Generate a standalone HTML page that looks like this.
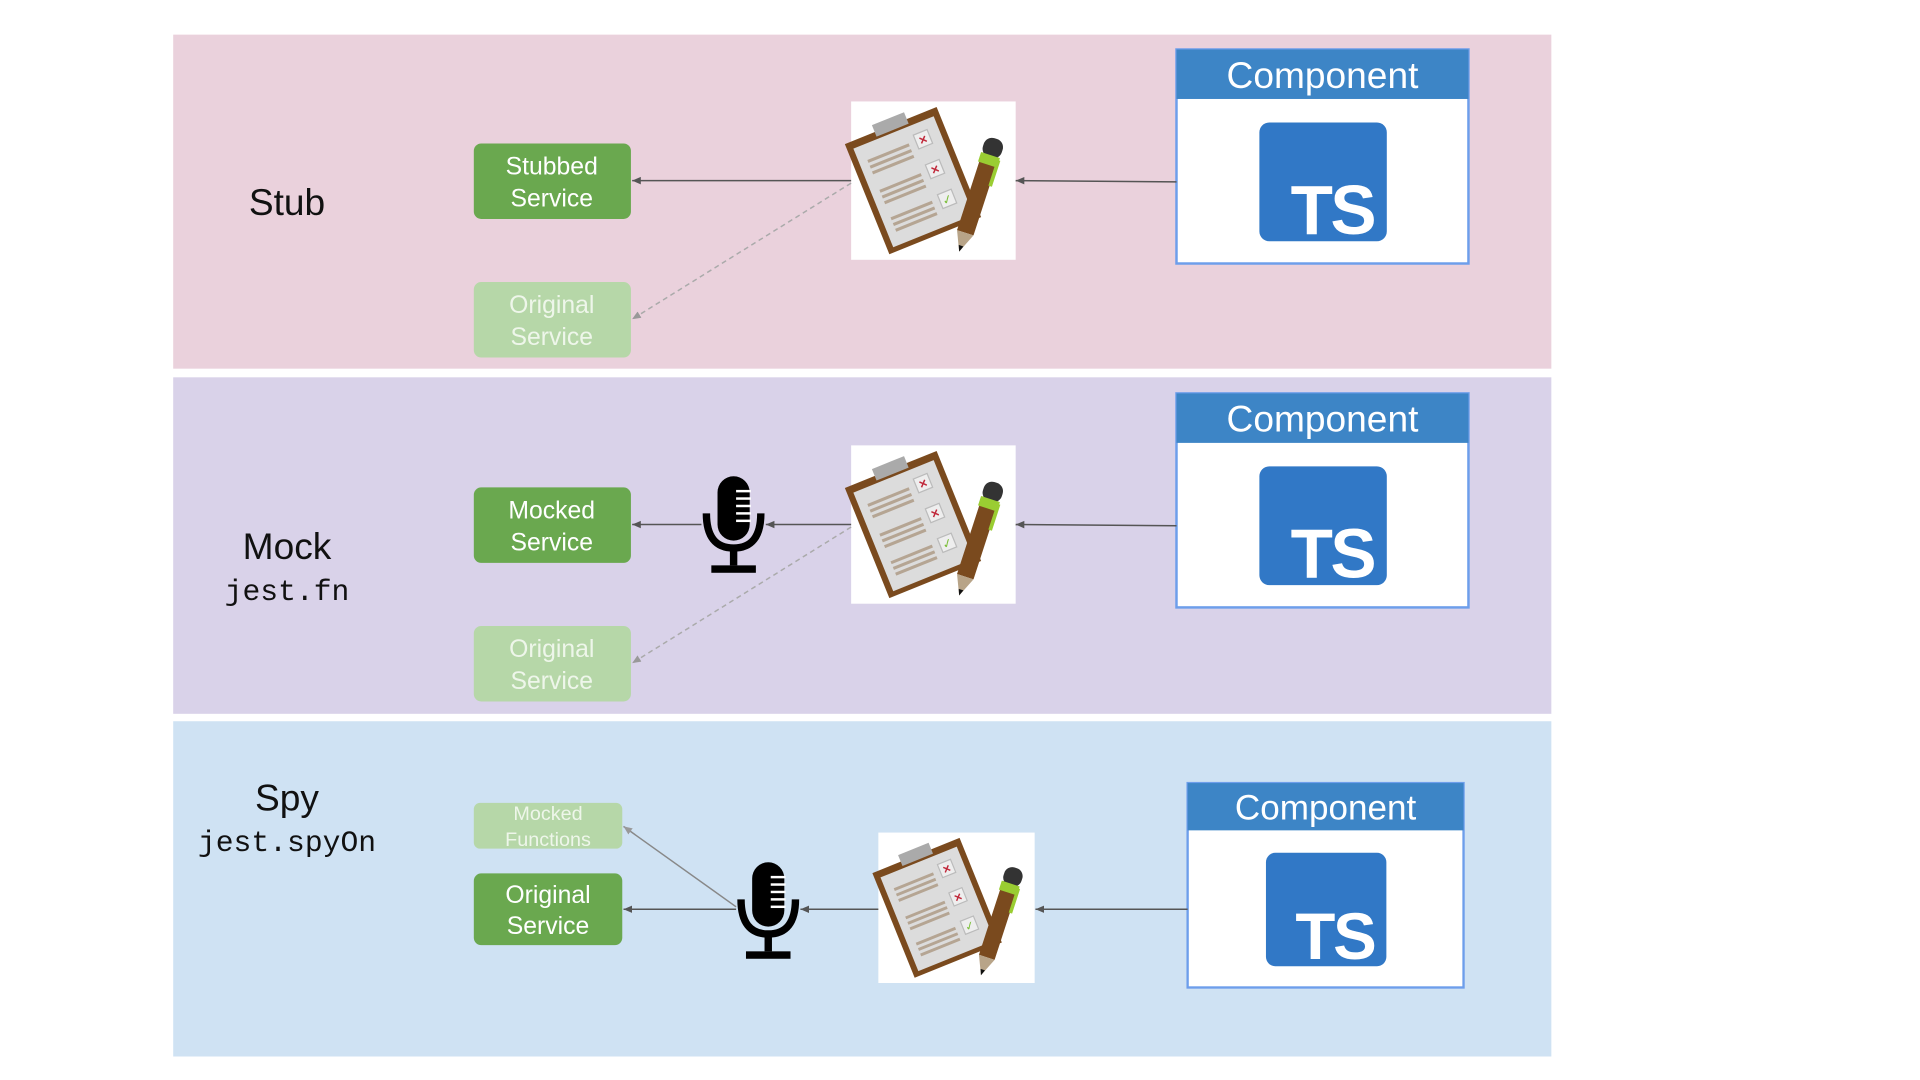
<!DOCTYPE html>
<html><head><meta charset="utf-8"><style>
html,body{margin:0;padding:0;background:#fff;width:1920px;height:1080px;overflow:hidden}
svg{display:block}
text{font-family:"Liberation Sans",sans-serif}
.mono{font-family:"Liberation Mono",monospace}
</style></head><body>
<svg width="1920" height="1080" viewBox="0 0 1552 873" xmlns="http://www.w3.org/2000/svg">
<defs>
<marker id="ah" markerWidth="8" markerHeight="8" refX="7" refY="4" orient="auto" markerUnits="userSpaceOnUse">
<path d="M0,1 L7,4 L0,7 Z" fill="#555"/></marker>
<marker id="ah2" markerWidth="8" markerHeight="8" refX="7" refY="4" orient="auto" markerUnits="userSpaceOnUse">
<path d="M0,1 L7,4 L0,7 Z" fill="#999"/></marker>
<g id="clip">
<rect x="0" y="0" width="133" height="128" fill="#fff"/>
<g transform="translate(50,64) rotate(-22)">
<rect x="-40" y="-48" width="80" height="96" fill="#7a4a1e"/>
<rect x="-35" y="-42" width="70" height="86" fill="#dcdcdc"/>
<rect x="-14" y="-54" width="28" height="10" fill="#aaa"/>
<g stroke="#b5a593" stroke-width="2.5">
<line x1="-28" y1="-28" x2="8" y2="-28"/><line x1="-28" y1="-23" x2="8" y2="-23"/><line x1="-28" y1="-18" x2="8" y2="-18"/>
<line x1="-28" y1="-2" x2="8" y2="-2"/><line x1="-28" y1="3" x2="8" y2="3"/><line x1="-28" y1="8" x2="8" y2="8"/>
<line x1="-28" y1="22" x2="8" y2="22"/><line x1="-28" y1="27" x2="8" y2="27"/><line x1="-28" y1="32" x2="8" y2="32"/>
</g>
<rect x="14" y="-34" width="12" height="12" fill="#eee" stroke="#bbb"/>
<rect x="14" y="-8" width="12" height="12" fill="#eee" stroke="#bbb"/>
<rect x="14" y="18" width="12" height="12" fill="#eee" stroke="#bbb"/>
<text x="20" y="-24" font-size="11" fill="#c0283a" text-anchor="middle" font-weight="bold">×</text>
<text x="20" y="2" font-size="11" fill="#c0283a" text-anchor="middle" font-weight="bold">×</text>
<text x="20" y="28" font-size="10" fill="#7cbf3a" text-anchor="middle">✓</text>
</g>
<g transform="translate(104,70) rotate(18)">
<rect x="-7" y="-28" width="14" height="66" fill="#7a4a1e"/>
<rect x="-8" y="-42" width="16" height="16" rx="7" fill="#333"/>
<rect x="-8" y="-28" width="16" height="8" fill="#9acd32"/>
<rect x="6" y="-26" width="3" height="22" fill="#9acd32"/>
<path d="M-7,38 L7,38 L0,54 Z" fill="#b8a488"/>
<path d="M-2,49 L2,49 L0,54 Z" fill="#111"/>
</g>
</g>
<g id="mic">
<rect x="13" y="0" width="26" height="52" rx="13" fill="#000"/>
<g stroke="#fff" stroke-width="2"><line x1="28" y1="12" x2="40" y2="12"/><line x1="28" y1="18" x2="40" y2="18"/><line x1="28" y1="24" x2="40" y2="24"/><line x1="28" y1="30" x2="40" y2="30"/><line x1="28" y1="36" x2="40" y2="36"/></g>
<path d="M4,30 Q4,58 26,58 Q48,58 48,30" fill="none" stroke="#000" stroke-width="6"/>
<rect x="23" y="58" width="6" height="14" fill="#000"/>
<rect x="8" y="72" width="36" height="6" fill="#000"/>
</g>
<g id="comp">
<rect x="0" y="0" width="236" height="173" fill="#fff" stroke="#6d9eeb" stroke-width="2"/>
<rect x="0" y="0" width="236" height="40" fill="#3d85c6"/>
<text x="118" y="31" font-size="30" fill="#fff" text-anchor="middle">Component</text>
<rect x="67" y="59" width="103" height="96" rx="8" fill="#3178c6"/>
<text x="126" y="149" font-size="56" font-weight="bold" fill="#fff" text-anchor="middle" letter-spacing="-2">TS</text>
</g>
</defs>

<rect x="140" y="28" width="1114" height="270" fill="#ead1dc"/>
<rect x="140" y="305" width="1114" height="272" fill="#d9d2e9"/>
<rect x="140" y="583" width="1114" height="271" fill="#cfe2f3"/>

<!-- Stub -->
<text x="232" y="174" font-size="30" text-anchor="middle" fill="#111">Stub</text>
<rect x="383" y="116" width="127" height="61" rx="6" fill="#6aa84f"/>
<text x="446" y="141" font-size="20" fill="#fff" text-anchor="middle">Stubbed</text>
<text x="446" y="167" font-size="20" fill="#fff" text-anchor="middle">Service</text>
<rect x="383" y="228" width="127" height="61" rx="6" fill="#b6d7a8"/>
<text x="446" y="253" font-size="20" fill="#eef6ea" text-anchor="middle">Original</text>
<text x="446" y="279" font-size="20" fill="#eef6ea" text-anchor="middle">Service</text>
<use href="#clip" x="688" y="82"/>
<line x1="688" y1="146" x2="511" y2="146" stroke="#555" stroke-width="1.2" marker-end="url(#ah)"/>
<line x1="688" y1="148" x2="511" y2="258" stroke="#aaa" stroke-width="1.2" stroke-dasharray="4,3" marker-end="url(#ah2)"/>
<use href="#comp" x="951" y="40"/>
<line x1="951" y1="147" x2="821" y2="146" stroke="#555" stroke-width="1.2" marker-end="url(#ah)"/>

<!-- Mock -->
<text x="232" y="452" font-size="30" text-anchor="middle" fill="#111">Mock</text>
<text x="232" y="485" font-size="24" text-anchor="middle" fill="#111" class="mono">jest.fn</text>
<rect x="383" y="394" width="127" height="61" rx="6" fill="#6aa84f"/>
<text x="446" y="419" font-size="20" fill="#fff" text-anchor="middle">Mocked</text>
<text x="446" y="445" font-size="20" fill="#fff" text-anchor="middle">Service</text>
<rect x="383" y="506" width="127" height="61" rx="6" fill="#b6d7a8"/>
<text x="446" y="531" font-size="20" fill="#eef6ea" text-anchor="middle">Original</text>
<text x="446" y="557" font-size="20" fill="#eef6ea" text-anchor="middle">Service</text>
<use href="#clip" x="688" y="360"/>
<use href="#mic" x="567" y="385"/>
<line x1="688" y1="424" x2="619" y2="424" stroke="#555" stroke-width="1.2" marker-end="url(#ah)"/>
<line x1="567" y1="424" x2="511" y2="424" stroke="#555" stroke-width="1.2" marker-end="url(#ah)"/>
<line x1="688" y1="426" x2="511" y2="536" stroke="#aaa" stroke-width="1.2" stroke-dasharray="4,3" marker-end="url(#ah2)"/>
<use href="#comp" x="951" y="318"/>
<line x1="951" y1="425" x2="821" y2="424" stroke="#555" stroke-width="1.2" marker-end="url(#ah)"/>

<!-- Spy -->
<text x="232" y="655" font-size="30" text-anchor="middle" fill="#111">Spy</text>
<text x="232" y="688" font-size="24" text-anchor="middle" fill="#111" class="mono">jest.spyOn</text>
<rect x="383" y="649" width="120" height="37" rx="5" fill="#b6d7a8"/>
<text x="443" y="663" font-size="16" fill="#eef6ea" text-anchor="middle">Mocked</text>
<text x="443" y="684" font-size="16" fill="#eef6ea" text-anchor="middle">Functions</text>
<rect x="383" y="706" width="120" height="58" rx="6" fill="#6aa84f"/>
<text x="443" y="730" font-size="20" fill="#fff" text-anchor="middle">Original</text>
<text x="443" y="755" font-size="20" fill="#fff" text-anchor="middle">Service</text>
<use href="#clip" x="710" y="673" transform="translate(710,673) scale(0.95) translate(-710,-673)"/>
<use href="#mic" x="595" y="697"/>
<line x1="710" y1="735" x2="647" y2="735" stroke="#555" stroke-width="1.2" marker-end="url(#ah)"/>
<line x1="595" y1="735" x2="504" y2="735" stroke="#555" stroke-width="1.2" marker-end="url(#ah)"/>
<line x1="595" y1="733" x2="504" y2="668" stroke="#888" stroke-width="1.2" marker-end="url(#ah2)"/>
<use href="#comp" x="0" y="0" transform="translate(960,633) scale(0.945,0.955)"/>
<line x1="960" y1="735" x2="837" y2="735" stroke="#555" stroke-width="1.2" marker-end="url(#ah)"/>
</svg>
</body></html>
